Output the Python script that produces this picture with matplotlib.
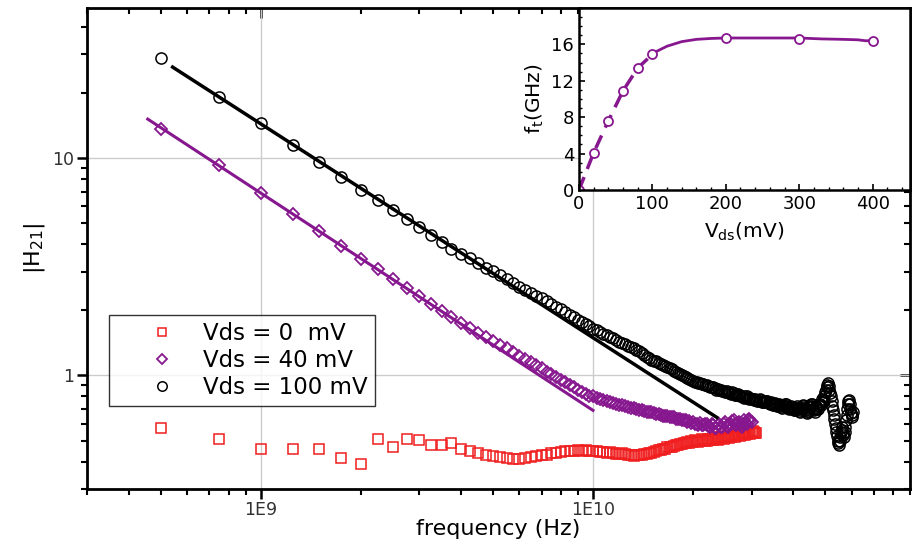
import numpy as np
import matplotlib
matplotlib.use("Agg")
import matplotlib.pyplot as plt
from matplotlib.ticker import LogLocator, NullFormatter, FixedLocator, FixedFormatter, MultipleLocator

plt.rcParams['font.family'] = ['DejaVu Sans']

## frequency sweep grid (GHz), 250 MHz steps
f_lo = np.arange(0.5, 10.0, 0.25)
f_hi = np.arange(10.0, 61.0, 0.25)

## |H21|
h_0mV_lo = [0.575, 0.51, 0.46, 0.46, 0.46, 0.415, 0.39, 0.51, 0.466, 0.51,
            0.505, 0.476, 0.476, 0.486, 0.46, 0.45, 0.437, 0.43, 0.425, 0.42,
            0.415, 0.41, 0.412, 0.418, 0.42, 0.425, 0.428, 0.432, 0.437, 0.44,
            0.445, 0.447, 0.45, 0.448, 0.452, 0.449, 0.451, 0.448]
h_0mV_hi = [0.447, 0.449, 0.445, 0.443,   # 10 GHz
            0.44, 0.442, 0.438, 0.436,
            0.435, 0.437, 0.433, 0.43,
            0.43, 0.426, 0.428, 0.43,
            0.432, 0.436, 0.435, 0.44,
            0.44, 0.445, 0.448, 0.452,    # 15
            0.455, 0.458, 0.46, 0.466,
            0.468, 0.47, 0.472, 0.476,
            0.478, 0.485, 0.482, 0.486,
            0.488, 0.494, 0.49, 0.497,
            0.495, 0.502, 0.50, 0.494,    # 20
            0.498, 0.508, 0.505, 0.498,
            0.50, 0.512, 0.51, 0.502,
            0.505, 0.518, 0.515, 0.506,
            0.51, 0.522, 0.52, 0.51,
            0.515, 0.528, 0.525, 0.515,   # 25
            0.52, 0.532, 0.53, 0.52,
            0.525, 0.538, 0.535, 0.525,
            0.53, 0.542, 0.54, 0.53,
            0.535, 0.548, 0.545, 0.535,
            0.54, 0.552, 0.55, 0.54,      # 30
            0.545]

h_40mV_lo = [13.6, 9.3, 6.9, 5.55, 4.6, 3.92, 3.42, 3.08, 2.78, 2.52,
             2.32, 2.13, 1.98, 1.85, 1.74, 1.65, 1.57, 1.50, 1.44, 1.38,
             1.33, 1.28, 1.23, 1.19, 1.15, 1.11, 1.08, 1.04, 1.01, 0.98,
             0.955, 0.93, 0.905, 0.88, 0.86, 0.84, 0.82, 0.80]
h_40mV_hi = [0.80, 0.79, 0.78, 0.77,     # 10 GHz
             0.76, 0.755, 0.745, 0.74,
             0.73, 0.727, 0.72, 0.715,
             0.71, 0.705, 0.70, 0.695,
             0.69, 0.688, 0.68, 0.678,
             0.675, 0.668, 0.665, 0.662, # 15
             0.66, 0.652, 0.65, 0.648,
             0.645, 0.64, 0.64, 0.632,
             0.63, 0.628, 0.625, 0.62,
             0.62, 0.612, 0.615, 0.605,
             0.61, 0.60, 0.60, 0.592,    # 20
             0.605, 0.59, 0.59, 0.60,
             0.60, 0.585, 0.58, 0.595,
             0.59, 0.575, 0.57, 0.59,
             0.60, 0.58, 0.58, 0.595,
             0.61, 0.585, 0.58, 0.60,    # 25
             0.60, 0.615, 0.62, 0.595,
             0.59, 0.605, 0.61, 0.59,
             0.58, 0.60, 0.62, 0.605,
             0.60, 0.62, 0.63, 0.615,
             0.61]                       # 30

h_100mV_lo = [28.9, 19.1, 14.5, 11.5, 9.6, 8.2, 7.1, 6.4, 5.75, 5.25,
              4.8, 4.42, 4.1, 3.82, 3.63, 3.45, 3.29, 3.13, 3.02, 2.89,
              2.77, 2.66, 2.56, 2.48, 2.40, 2.32, 2.26, 2.19, 2.13, 2.07,
              2.01, 1.955, 1.90, 1.85, 1.80, 1.76, 1.72, 1.68]
h_100mV_hi = [1.64, 1.61, 1.58, 1.555,   # 10 GHz
              1.53, 1.505, 1.48, 1.455,
              1.43, 1.41, 1.39, 1.37,
              1.35, 1.33, 1.31, 1.29,
              1.27, 1.245, 1.22, 1.20,
              1.18, 1.17, 1.16, 1.145,   # 15
              1.13, 1.115, 1.10, 1.09,
              1.08, 1.065, 1.05, 1.04,
              1.03, 1.015, 1.00, 0.99,
              0.98, 0.97, 0.96, 0.95,
              0.94, 0.935, 0.93, 0.925,  # 20
              0.92, 0.915, 0.91, 0.905,
              0.90, 0.89, 0.88, 0.885,
              0.88, 0.87, 0.86, 0.865,
              0.86, 0.855, 0.85, 0.845,
              0.84, 0.845, 0.84, 0.83,   # 25
              0.82, 0.835, 0.83, 0.815,
              0.81, 0.82, 0.81, 0.80,
              0.80, 0.795, 0.79, 0.805,
              0.80, 0.785, 0.78, 0.79,
              0.78, 0.775, 0.77, 0.78,   # 30
              0.77, 0.765, 0.76, 0.775,
              0.77, 0.755, 0.75, 0.76,
              0.75, 0.765, 0.76, 0.745,
              0.74, 0.75, 0.74, 0.73,
              0.73, 0.745, 0.74, 0.725,  # 35
              0.72, 0.735, 0.73, 0.715,
              0.71, 0.73, 0.72, 0.735,
              0.74, 0.72, 0.71, 0.705,
              0.70, 0.715, 0.72, 0.71,
              0.71, 0.695, 0.69, 0.71,   # 40
              0.72, 0.705, 0.70, 0.685,
              0.68, 0.70, 0.71, 0.725,
              0.73, 0.71, 0.69, 0.675,
              0.67, 0.685, 0.70, 0.715,
              0.72, 0.735, 0.74, 0.72,   # 45
              0.70, 0.69, 0.68, 0.70,
              0.72, 0.71, 0.70, 0.72,
              0.74, 0.735, 0.73, 0.755,
              0.78, 0.77, 0.76, 0.80,
              0.84, 0.86, 0.88, 0.90,    # 50
              0.92, 0.89, 0.86, 0.83,
              0.80, 0.76, 0.72, 0.69,
              0.66, 0.63, 0.60, 0.575,
              0.55, 0.525, 0.50, 0.49,
              0.48, 0.50, 0.52, 0.55,    # 55
              0.58, 0.56, 0.54, 0.53,
              0.52, 0.55, 0.58, 0.62,
              0.66, 0.70, 0.74, 0.76,
              0.77, 0.735, 0.70, 0.67,
              0.64, 0.66, 0.68]          # 60

## 1/f fit lines (end points, GHz / |H21|)
fit100_f = [0.543, 23.6]
fit100_h = [26.2, 0.64]
fit40_f = [0.457, 10.0]
fit40_h = [15.1, 0.69]

## inset: ft vs Vds
vds = [0, 20, 40, 60, 80, 100, 200, 300, 400]
ft = [0, 4.1, 7.6, 10.9, 13.4, 14.9, 16.65, 16.6, 16.35]
curve_v = [105, 120, 140, 160, 180, 200, 250, 300, 330, 360, 380, 390, 400]
curve_ft = [15.2, 15.8, 16.3, 16.55, 16.65, 16.7, 16.7, 16.7, 16.6, 16.55, 16.5, 16.4, 16.4]

RED = '#f01e1e'
PURPLE = '#87178f'

def series(lo, hi):
    f = np.concatenate([f_lo[:len(lo)], f_hi[:len(hi)]]) * 1e9
    return f, np.array(lo + hi)

fig = plt.figure(figsize=(9.17, 5.45), dpi=100)
ax = fig.add_axes([0.0949, 0.1028, 0.8975, 0.8825])
ax.set_xscale('log')
ax.set_yscale('log')

f0, h0 = series(h_0mV_lo, h_0mV_hi)
f40, h40 = series(h_40mV_lo, h_40mV_hi)
f100, h100 = series(h_100mV_lo, h_100mV_hi)

ax.plot(f0, h0, 's', ms=7.5, mfc='none', mec=RED, mew=1.1, label='Vds = 0  mV', zorder=3)
ax.plot(f40, h40, 'D', ms=6.5, mfc='none', mec=PURPLE, mew=1.3, label='Vds = 40 mV', zorder=3)
ax.plot(f100, h100, 'o', ms=8, mfc='none', mec='black', mew=1.1, label='Vds = 100 mV', zorder=3)
ax.plot(np.array(fit40_f) * 1e9, fit40_h, '-', color=PURPLE, lw=2.2, zorder=4)
ax.plot(np.array(fit100_f) * 1e9, fit100_h, '-', color='black', lw=2.5, zorder=4)

ax.set_xlim(3e8, 9e10)
ax.set_ylim(0.3, 49)
ax.xaxis.set_major_locator(FixedLocator([1e9, 1e10]))
ax.xaxis.set_major_formatter(FixedFormatter(['1E9', '1E10']))
ax.xaxis.set_minor_locator(LogLocator(base=10, subs=np.arange(2, 10)))
ax.xaxis.set_minor_formatter(NullFormatter())
ax.yaxis.set_major_locator(FixedLocator([1, 10]))
ax.yaxis.set_major_formatter(FixedFormatter(['1', '10']))
ax.yaxis.set_minor_locator(LogLocator(base=10, subs=np.arange(2, 10)))
ax.yaxis.set_minor_formatter(NullFormatter())
ax.grid(True, which='major', color='#cccccc', lw=1)
ax.tick_params(which='major', direction='out', length=7, width=1.8, labelsize=12.5,
               labelcolor='#333333', pad=2)
ax.tick_params(which='minor', direction='out', length=4.5, width=1.5)
for s in ax.spines.values():
    s.set_linewidth(2)

# mirrored ticks pointing in on top / right
top = ax.secondary_xaxis('top')
top.xaxis.set_major_locator(FixedLocator([1e9, 1e10]))
top.xaxis.set_minor_locator(LogLocator(base=10, subs=np.arange(2, 10)))
top.xaxis.set_major_formatter(NullFormatter())
top.xaxis.set_minor_formatter(NullFormatter())
top.tick_params(which='major', direction='in', length=7, width=1.8)
top.tick_params(which='minor', direction='in', length=4.5, width=1.5)
right = ax.secondary_yaxis('right')
right.yaxis.set_major_locator(FixedLocator([1, 10]))
right.yaxis.set_minor_locator(LogLocator(base=10, subs=np.arange(2, 10)))
right.yaxis.set_major_formatter(NullFormatter())
right.yaxis.set_minor_formatter(NullFormatter())
right.tick_params(which='major', direction='in', length=7, width=1.8)
right.tick_params(which='minor', direction='in', length=4.5, width=1.5)

ax.set_xlabel('frequency (Hz)', fontsize=16, labelpad=0)
ax.set_ylabel(r'$|\mathregular{H_{21}}|$', fontsize=16, labelpad=4)

leg = ax.legend(loc='upper left', bbox_to_anchor=(0.027, 0.362), borderaxespad=0,
                fontsize=16.5, frameon=True, fancybox=False, edgecolor='black',
                borderpad=0.3, labelspacing=0.18, handlelength=4.0, handletextpad=-0.2,
                markerscale=0.85)
leg.get_frame().set_linewidth(1.0)

## inset
ins = fig.add_axes([0.6314, 0.6514, 0.361, 0.334])
ins.set_facecolor('white')
ins.plot(vds[:6], ft[:6], '--', color=PURPLE, lw=2.5, dashes=(4, 2.5))
ins.plot(curve_v, curve_ft, '-', color=PURPLE, lw=2)
ins.plot(vds, ft, 'o', ms=6.5, mfc='white', mec=PURPLE, mew=1.3)
ins.set_xlim(0, 451)
ins.set_ylim(0, 20)
ins.xaxis.set_major_locator(MultipleLocator(100))
ins.xaxis.set_minor_locator(MultipleLocator(20))
ins.yaxis.set_major_locator(FixedLocator([0, 4, 8, 12, 16]))
ins.yaxis.set_minor_locator(MultipleLocator(1))
ins.tick_params(which='major', direction='in', length=4, width=1.2, labelsize=13)
ins.tick_params(which='minor', direction='in', length=2, width=1)
for s in ins.spines.values():
    s.set_linewidth(1.8)
ins.set_xlabel(r'$\mathregular{V_{ds}}$(mV)', fontsize=14.5, labelpad=6)
ins.set_ylabel(r'$\mathregular{f_t}$(GHz)', fontsize=14.5, labelpad=4)

fig.savefig('out.png', dpi=100)
